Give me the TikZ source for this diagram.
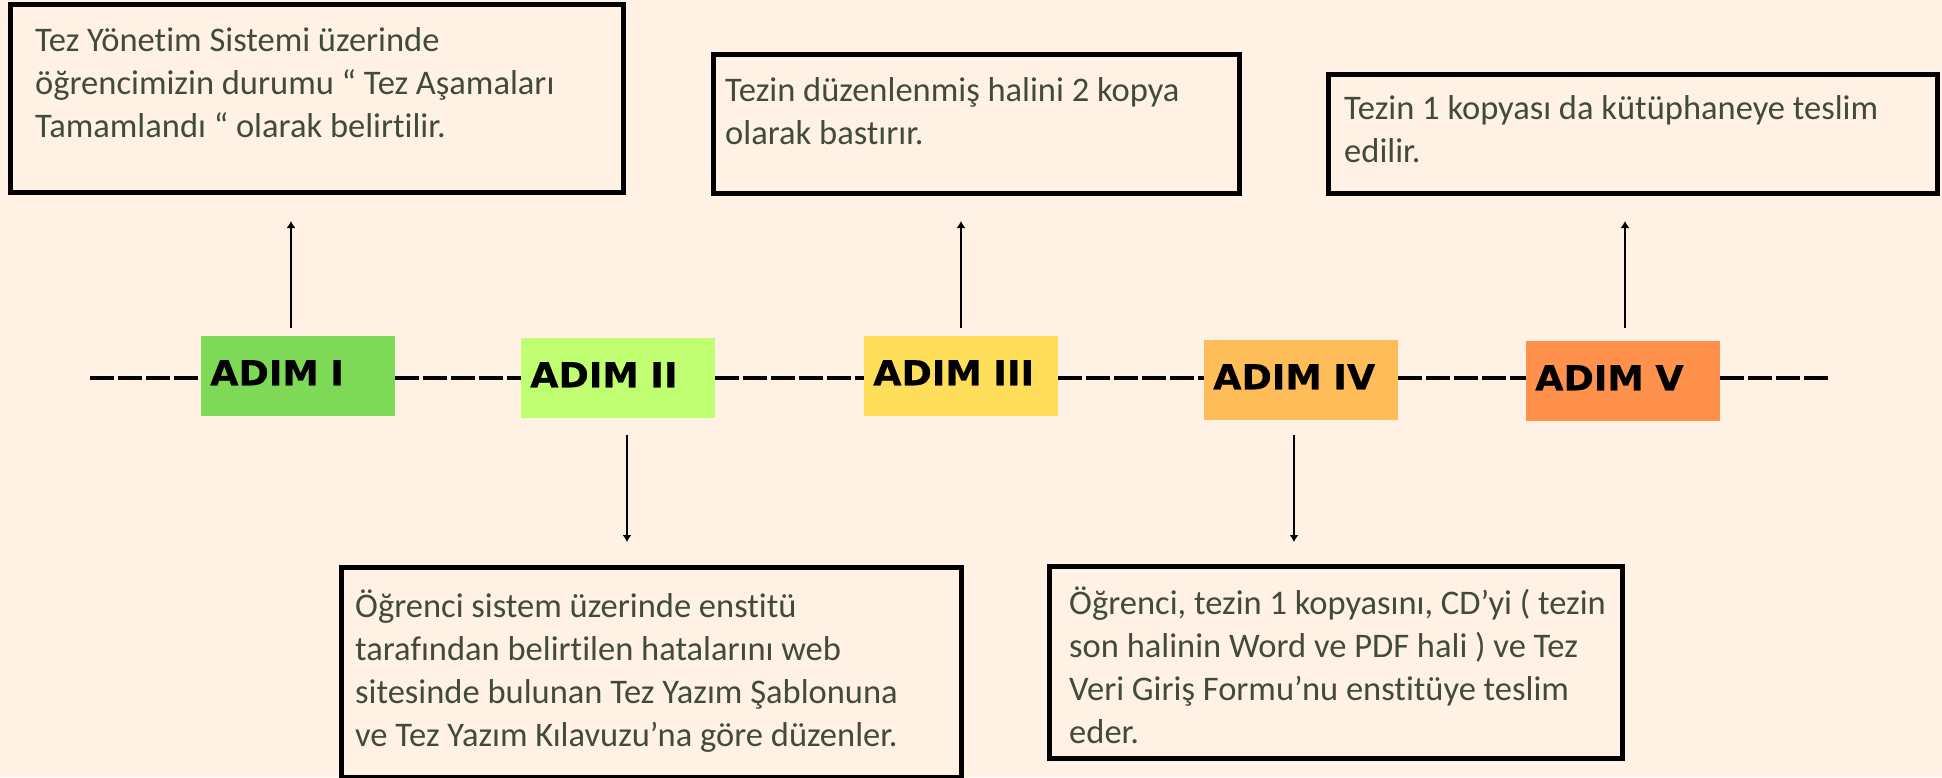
\documentclass[tikz,border=0pt]{standalone}
\usepackage{fontspec}
\setmainfont{Carlito}[Ligatures=NoCommon]
\newfontfamily\adimfont{DejaVu Sans}[FakeStretch=1.06,FakeBold=0.6]
\usetikzlibrary{arrows.meta}
\definecolor{bgc}{HTML}{FFF2E5}
\definecolor{txc}{HTML}{404B3C}
\definecolor{cI}{HTML}{7ED957}
\definecolor{cII}{HTML}{C1FF72}
\definecolor{cIII}{HTML}{FFDE59}
\definecolor{cIV}{HTML}{FFBD59}
\definecolor{cV}{HTML}{FF914D}
\tikzset{
  tbox/.style={draw=black, line width=4.5pt, rectangle, inner sep=0pt, anchor=north west},
  txt/.style={text=txc, inner sep=0pt, anchor=base west, font=\fontsize{34.5}{43}\selectfont},
  adim/.style={rectangle, inner xsep=9pt, inner ysep=0pt, text width=176pt, align=left,
    minimum height=80pt, text depth=7pt, anchor=north west, font=\adimfont\bfseries\fontsize{34.5}{38}\selectfont},
  arr/.style={line width=2pt, -{Latex[length=7pt,width=9pt]}},
  tl/.style={line width=4pt, dash pattern=on 24pt off 4pt}
}
\begin{document}
\begin{tikzpicture}[x=1pt,y=-1pt]
\useasboundingbox (0,0) rectangle (1942,777);
\fill[bgc] (0,0) rectangle (1942,777);
% timeline coordinates
\coordinate (ls) at (90,378);
\coordinate (le) at (1831,378);
% ADIM boxes
\node[adim, fill=cI]   (a1) at (201,336) {ADIM I};
\node[adim, fill=cII]  (a2) at (521,338) {ADIM II};
\node[adim, fill=cIII] (a3) at (864,336) {ADIM III};
\node[adim, fill=cIV]  (a4) at (1204,340) {ADIM IV};
\node[adim, fill=cV]   (a5) at (1526,341) {ADIM V};
% dashed timeline
\draw[tl] (ls) -- (a1.west |- ls);
\draw[tl] (a1.east |- ls) -- (a2.west |- ls);
\draw[tl] (a2.east |- ls) -- (a3.west |- ls);
\draw[tl] (a3.east |- ls) -- (a4.west |- ls);
\draw[tl] (a4.east |- ls) -- (a5.west |- ls);
\draw[tl] (a5.east |- ls) -- (le);
% text boxes
\node[tbox, minimum width=613pt, minimum height=188pt] (b1) at (8,2.25) {};
\node[tbox, minimum width=526pt, minimum height=139pt] (b2) at (711,52) {};
\node[tbox, minimum width=609pt, minimum height=119pt] (b3) at (1326,72) {};
\node[tbox, minimum width=620pt, minimum height=210pt] (b4) at (339,565) {};
\node[tbox, minimum width=573pt, minimum height=192pt] (b5) at (1047,564) {};
% texts
\node[txt] (t1) at (35,51) {\vtop{\hbox{Tez Yönetim Sistemi üzerinde}\hbox{öğrencimizin durumu “ Tez Aşamaları}\hbox{Tamamlandı “ olarak belirtilir.}}};
\node[txt] (t2) at (725,101) {\vtop{\hbox{Tezin düzenlenmiş halini 2 kopya}\hbox{olarak bastırır.}}};
\node[txt] (t3) at (1344,119) {\vtop{\hbox{Tezin 1 kopyası da kütüphaneye teslim}\hbox{edilir.}}};
\node[txt] (t4) at (355,617) {\vtop{\hbox{Öğrenci sistem üzerinde enstitü}\hbox{tarafından belirtilen hatalarını web}\hbox{sitesinde bulunan Tez Yazım Şablonuna}\hbox{ve Tez Yazım Kılavuzu’na göre düzenler.}}};
\node[txt] (t5) at (1069,614) {\vtop{\hbox{Öğrenci, tezin 1 kopyasını, CD’yi ( tezin}\hbox{son halinin Word ve PDF hali ) ve Tez}\hbox{Veri Giriş Formu’nu enstitüye teslim}\hbox{eder.}}};
% arrows
\coordinate (u1s) at (291,328); \coordinate (u1e) at (291,221);
\coordinate (d2s) at (627,435); \coordinate (d2e) at (627,542);
\coordinate (u3s) at (961,328); \coordinate (u3e) at (961,221);
\coordinate (d4s) at (1294,435); \coordinate (d4e) at (1294,542);
\coordinate (u5s) at (1625,328); \coordinate (u5e) at (1625,221);
\draw[arr] (u1s) -- (u1e);
\draw[arr] (d2s) -- (d2e);
\draw[arr] (u3s) -- (u3e);
\draw[arr] (d4s) -- (d4e);
\draw[arr] (u5s) -- (u5e);
\end{tikzpicture}
\end{document}
